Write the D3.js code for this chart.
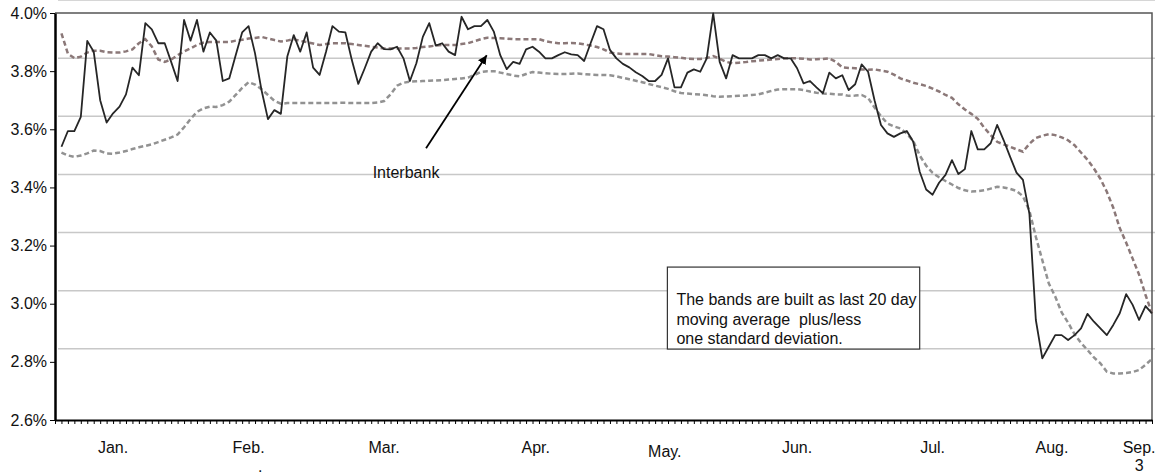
<!DOCTYPE html>
<html>
<head>
<meta charset="utf-8">
<script src="https://cdn.jsdelivr.net/npm/d3@7"></script>
<style>
  body { margin: 0; background: #fff; }
  svg { font-family: "Liberation Sans", Arial, sans-serif; }
</style>
</head>
<body>
<div id="chart"></div>
<script>
// Daily interbank rate (%) and the 20-day +/- 1 sd bands, one value per trading day
const interbank = [
  3.54, 3.594, 3.594, 3.643, 3.904, 3.867, 3.70, 3.623, 3.655, 3.678,
  3.72, 3.812, 3.786, 3.965, 3.944, 3.896, 3.896, 3.832, 3.766, 3.976,
  3.905, 3.976, 3.867, 3.933, 3.905, 3.766, 3.775, 3.855, 3.933, 3.955,
  3.861, 3.735, 3.635, 3.666, 3.653, 3.85, 3.924, 3.867, 3.933, 3.812,
  3.787, 3.867, 3.955, 3.936, 3.933, 3.838, 3.756, 3.81, 3.867, 3.896,
  3.876, 3.875, 3.884, 3.844, 3.766, 3.827, 3.918, 3.965, 3.888, 3.896,
  3.867, 3.855, 3.987, 3.944, 3.955, 3.955, 3.976, 3.936, 3.855, 3.807,
  3.832, 3.825, 3.875, 3.884, 3.867, 3.844, 3.844, 3.855, 3.865, 3.858,
  3.855, 3.835, 3.896, 3.955, 3.944, 3.873, 3.844, 3.825, 3.813, 3.796,
  3.783, 3.766, 3.766, 3.787, 3.844, 3.744, 3.744, 3.795, 3.806, 3.798,
  3.844, 3.999, 3.832, 3.775, 3.855, 3.844, 3.844, 3.844, 3.855, 3.855,
  3.844, 3.855, 3.844, 3.844, 3.81, 3.758, 3.766, 3.744, 3.724, 3.795,
  3.775, 3.786, 3.735, 3.755, 3.823, 3.798, 3.70, 3.615, 3.586, 3.574,
  3.586, 3.594, 3.557, 3.454, 3.393, 3.375, 3.416, 3.443, 3.494, 3.446,
  3.463, 3.594, 3.531, 3.531, 3.552, 3.615, 3.563, 3.506, 3.451, 3.426,
  3.31, 2.944, 2.812, 2.852, 2.892, 2.892, 2.875, 2.892, 2.915, 2.965,
  2.938, 2.915, 2.892, 2.927, 2.967, 3.033, 2.996, 2.944, 2.992, 2.967
];

const upperBand = [
  3.93, 3.86, 3.845, 3.85, 3.864, 3.87, 3.87, 3.865, 3.864, 3.864,
  3.868, 3.875, 3.896, 3.91, 3.885, 3.84, 3.832, 3.84, 3.855, 3.868,
  3.878, 3.89, 3.898, 3.9, 3.9, 3.9, 3.9, 3.905, 3.908, 3.912,
  3.914, 3.918, 3.912, 3.907, 3.902, 3.905, 3.91, 3.904, 3.90, 3.895,
  3.89, 3.893, 3.896, 3.896, 3.896, 3.893, 3.89, 3.887, 3.884, 3.881,
  3.878, 3.878, 3.878, 3.878, 3.878, 3.88, 3.883, 3.885, 3.888, 3.89,
  3.89, 3.89, 3.893, 3.896, 3.903, 3.91, 3.915, 3.914, 3.913, 3.912,
  3.91, 3.91, 3.91, 3.91, 3.91, 3.903, 3.899, 3.896, 3.896, 3.897,
  3.896, 3.892, 3.888, 3.883, 3.875, 3.864, 3.861, 3.859, 3.859, 3.859,
  3.859, 3.859, 3.855, 3.851, 3.85, 3.848, 3.846, 3.843, 3.842, 3.842,
  3.845, 3.852, 3.843, 3.832, 3.827, 3.829, 3.831, 3.834, 3.836, 3.838,
  3.84, 3.842, 3.844, 3.844, 3.844, 3.843, 3.84, 3.841, 3.842, 3.844,
  3.832, 3.813, 3.811, 3.81, 3.806, 3.805, 3.806, 3.802, 3.798, 3.788,
  3.775, 3.768, 3.76, 3.755, 3.749, 3.74, 3.73, 3.718, 3.708, 3.686,
  3.668, 3.653, 3.636, 3.605, 3.58, 3.557, 3.548, 3.54, 3.531, 3.523,
  3.55, 3.57, 3.578, 3.583, 3.58, 3.572, 3.562, 3.545, 3.52, 3.495,
  3.465, 3.43, 3.385, 3.33, 3.26, 3.21, 3.155, 3.10, 3.03, 2.967
];

const lowerBand = [
  3.52, 3.51, 3.505, 3.51, 3.517, 3.527, 3.525, 3.517, 3.516, 3.52,
  3.525, 3.532, 3.538, 3.543, 3.548, 3.556, 3.564, 3.572, 3.582, 3.607,
  3.635, 3.66, 3.672, 3.678, 3.677, 3.683, 3.695, 3.718, 3.742, 3.762,
  3.754, 3.738, 3.718, 3.698, 3.688, 3.69, 3.69, 3.69, 3.69, 3.69,
  3.69, 3.69, 3.69, 3.691, 3.691, 3.69, 3.69, 3.69, 3.69, 3.692,
  3.697, 3.72, 3.75, 3.76, 3.764, 3.765, 3.766, 3.767, 3.768, 3.769,
  3.771, 3.773, 3.775, 3.778, 3.787, 3.797, 3.8, 3.8, 3.795, 3.79,
  3.785, 3.782, 3.79, 3.797, 3.795, 3.793, 3.791, 3.79, 3.79, 3.791,
  3.792, 3.79, 3.788, 3.787, 3.787, 3.786, 3.782, 3.777, 3.772, 3.767,
  3.762, 3.756, 3.75, 3.745, 3.739, 3.731, 3.725, 3.723, 3.721, 3.72,
  3.717, 3.714, 3.712, 3.713, 3.714, 3.715, 3.716, 3.718, 3.72, 3.726,
  3.732, 3.737, 3.738, 3.738, 3.738, 3.735, 3.73, 3.726, 3.723, 3.722,
  3.72, 3.72, 3.715, 3.716, 3.718, 3.708, 3.675, 3.645, 3.62, 3.61,
  3.603, 3.585, 3.56, 3.51, 3.475, 3.45, 3.435, 3.422, 3.41, 3.398,
  3.39, 3.386, 3.387, 3.39, 3.396, 3.402, 3.4, 3.395, 3.388, 3.37,
  3.32, 3.23, 3.15, 3.07, 3.025, 2.97, 2.935, 2.895, 2.865, 2.841,
  2.815, 2.795, 2.766, 2.76, 2.76, 2.762, 2.765, 2.772, 2.79, 2.81
];

// month labels sit under these day positions
const monthLabels = ['Jan.', 'Feb.', 'Mar.', 'Apr.', 'May.', 'Jun.', 'Jul.', 'Aug.', 'Sep.'];
const monthPos = [9, 30, 51, 74.5, 94.5, 115, 136, 154.5, 168];
const yTicks = [2.6, 2.8, 3.0, 3.2, 3.4, 3.6, 3.8, 4.0];

const noteLines = [
    'The bands are built as last 20 day',
    'moving average  plus/less',
    'one standard deviation.'
];

const width = 1167, height = 474;
const N = interbank.length;
const FONT = '16px';

const svg = d3.select('#chart')
    .append('svg')
    .attr('width', width)
    .attr('height', height);

const x = d3.scaleLinear().domain([0, N]).range([55, 1152]);
const y = d3.scaleLinear().domain([2.6, 4.0]).range([420, 13]);

// gridlines (drawn shifted up/right like the original)
svg.append('g')
    .selectAll('line')
    .data(yTicks.slice(1))
    .enter()
    .append('line')
    .attr('x1', x(0) + 3)
    .attr('x2', x(N) + 3)
    .attr('y1', d => y(d) - 13)
    .attr('y2', d => y(d) - 13)
    .style('stroke', '#c8c8c8')
    .style('stroke-width', 1.5);

// plot frame top and right
svg.append('path')
    .attr('d', `M${x(0)},${y(4.0)}H${x(N)}V${y(2.6)}`)
    .style('fill', 'none')
    .style('stroke', '#555')
    .style('stroke-width', 1.5);

// y axis
const yAxis = svg.append('g')
    .attr('transform', `translate(${x(0)},0)`)
    .call(d3.axisLeft(y).tickValues(yTicks).tickFormat(d => d.toFixed(1) + '%').tickSize(5).tickSizeOuter(0));
yAxis.select('.domain').style('stroke', '#000').style('stroke-width', 2.5);
yAxis.selectAll('.tick line').style('stroke', '#000');
yAxis.selectAll('.tick text')
    .attr('x', -8)
    .style('font-size', FONT)
    .style('fill', '#111')
    .style('font-family', '"Liberation Sans", Arial, sans-serif');

// x axis, one tick per day
const xAxis = svg.append('g')
    .attr('transform', `translate(0,${y(2.6)})`)
    .call(d3.axisBottom(x).tickValues(d3.range(0, N + 1)).tickFormat('').tickSize(4).tickSizeOuter(0));
xAxis.select('.domain').style('stroke', '#000').style('stroke-width', 2);
xAxis.selectAll('.tick line').style('stroke', '#000');

svg.append('g')
    .selectAll('text')
    .data(monthLabels)
    .enter()
    .append('text')
    .attr('x', (d, i) => x(monthPos[i]))
    .attr('y', d => d === 'May.' ? 457 : 453)
    .attr('text-anchor', 'middle')
    .style('font-size', FONT)
    .style('fill', '#111')
    .text(d => d);

svg.append('text')
    .attr('x', x(monthPos[8]))
    .attr('y', 471)
    .attr('text-anchor', 'middle')
    .style('font-size', FONT)
    .style('fill', '#111')
    .text('3');

svg.append('text')
    .attr('x', x(31.8))
    .attr('y', 472)
    .attr('text-anchor', 'middle')
    .style('font-size', FONT)
    .style('fill', '#111')
    .text('.');

// series lines
const line = d3.line()
    .x((d, i) => x(i + 1))
    .y(d => y(d));

svg.append('path')
    .datum(lowerBand)
    .attr('d', line)
    .style('fill', 'none')
    .style('stroke', '#929292')
    .style('stroke-width', 2.5)
    .style('stroke-dasharray', '5,3');

svg.append('path')
    .datum(upperBand)
    .attr('d', line)
    .style('fill', 'none')
    .style('stroke', '#8b7878')
    .style('stroke-width', 2.5)
    .style('stroke-dasharray', '5,3');

svg.append('path')
    .datum(interbank)
    .attr('d', line)
    .style('fill', 'none')
    .style('stroke', '#262626')
    .style('stroke-width', 1.8)
    .style('stroke-linejoin', 'round');

// "Interbank" callout with arrow
svg.append('defs').append('marker')
    .attr('id', 'arrow')
    .attr('viewBox', '0 0 10 10')
    .attr('refX', 10)
    .attr('refY', 5)
    .attr('markerWidth', 9)
    .attr('markerHeight', 9)
    .attr('markerUnits', 'userSpaceOnUse')
    .attr('orient', 'auto')
    .append('path')
    .attr('d', 'M0,0L10,5L0,10Z')
    .style('fill', '#000');

svg.append('line')
    .attr('x1', x(57.5))
    .attr('y1', y(3.535))
    .attr('x2', x(66.9))
    .attr('y2', y(3.855))
    .style('stroke', '#000')
    .style('stroke-width', 1.8)
    .attr('marker-end', 'url(#arrow)');

svg.append('text')
    .attr('x', x(54.4))
    .attr('y', y(3.45) + 5)
    .attr('text-anchor', 'middle')
    .style('font-size', FONT)
    .style('fill', '#111')
    .text('Interbank');

// note box
const boxL = x(94.9), boxR = x(134), boxT = y(3.126), boxB = y(2.844);
svg.append('rect')
    .attr('x', boxL)
    .attr('y', boxT)
    .attr('width', boxR - boxL)
    .attr('height', boxB - boxT)
    .style('fill', '#fff')
    .style('stroke', '#333')
    .style('stroke-width', 1.2);

svg.append('g')
    .selectAll('text')
    .data(noteLines)
    .enter()
    .append('text')
    .attr('x', boxL + 9)
    .attr('y', (d, i) => boxT + 38 + i * 19.5)
    .style('font-size', FONT)
    .style('fill', '#111')
    .style('white-space', 'pre')
    .text(d => d);
</script>
</body>
</html>
